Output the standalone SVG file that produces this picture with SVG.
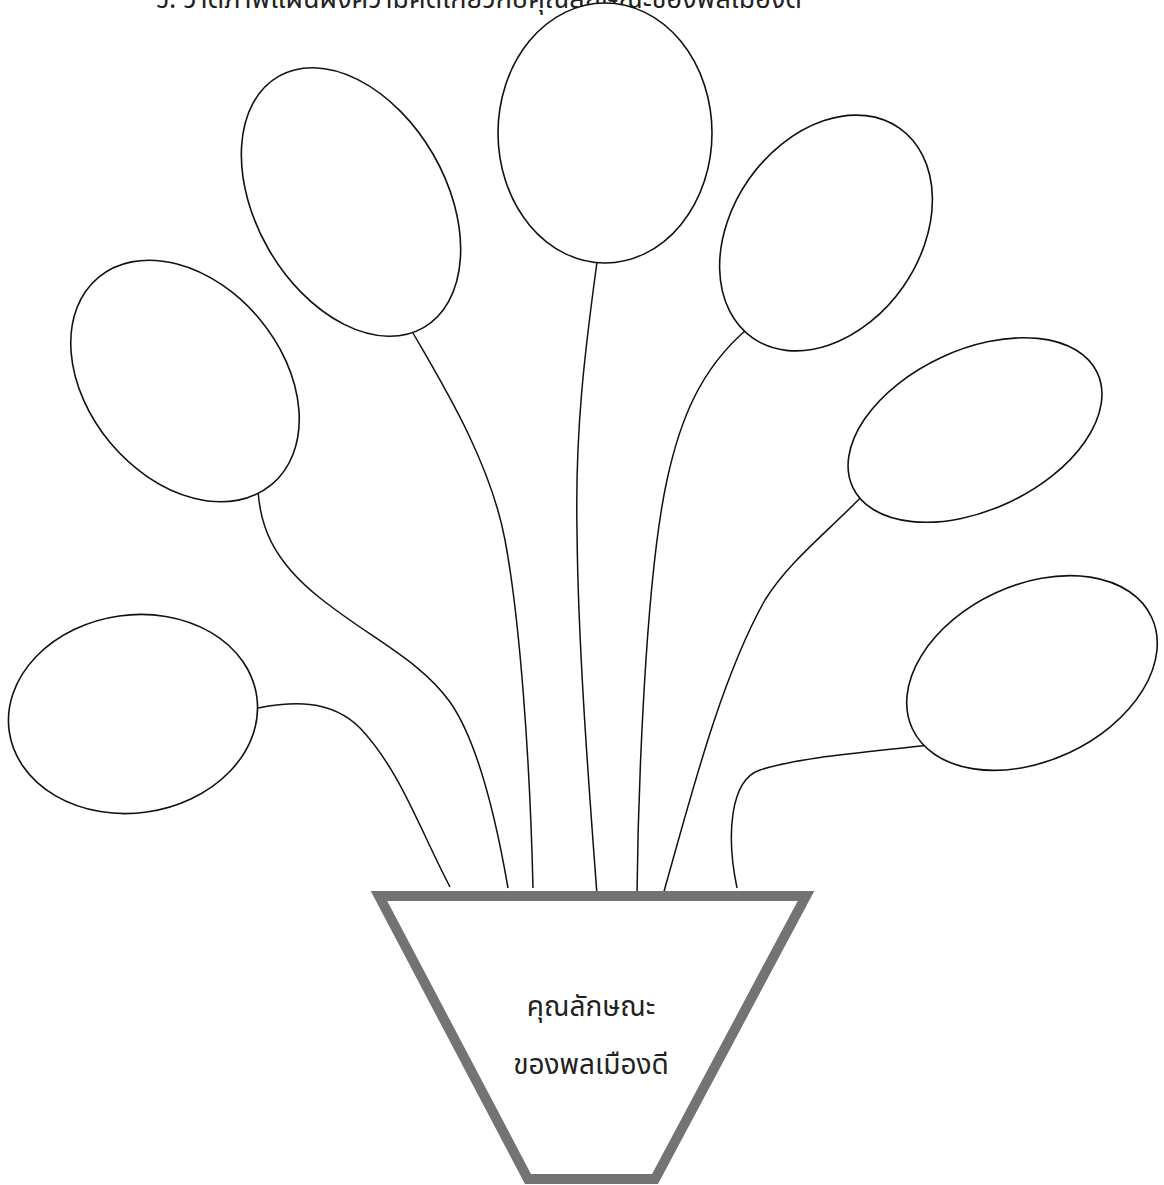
<svg xmlns="http://www.w3.org/2000/svg" width="1164" height="1185" viewBox="0 0 1164 1185">
<style>
.bubble{fill:#fff;stroke:#111;stroke-width:1.6}
.link{fill:none;stroke:#111;stroke-width:1.5}
.vase{fill:#fff;stroke:#737373;stroke-width:10;stroke-linejoin:miter}
.lbl{font-family:"Noto Sans Thai","Noto Sans","Liberation Sans",sans-serif;font-size:28px;fill:#222;text-anchor:middle}
.title{font-family:"Noto Sans Thai","Noto Sans","Liberation Sans",sans-serif;font-size:27px;fill:#222}
</style>
<rect width="1164" height="1185" fill="#fff"/>
<text class="title" x="155" y="8">๖. วาดภาพแผนผังความคิดเกี่ยวกับคุณลักษณะของพลเมืองดี</text>
<g id="connectors">
<path class="link" d="M258,708 C290,702 330,698 360,728 C400,770 420,830 450,887"/>
<path class="link" d="M258,490 C260,525 272,560 320,598 C370,638 420,660 450,702 C480,745 498,830 508,888"/>
<path class="link" d="M413,333 C440,380 490,460 505,540 C520,620 530,760 533,888"/>
<path class="link" d="M597,262 C585,350 575,430 577,530 C578,650 590,800 597,895"/>
<path class="link" d="M746,330 C700,370 680,420 667,480 C645,580 638,800 637,895"/>
<path class="link" d="M865,493 C830,530 790,560 765,600 C720,680 690,800 663,895"/>
<path class="link" d="M930,745 C870,752 800,757 760,770 C730,780 726,835 737,888"/>
</g>
<g id="bubble1"><ellipse class="bubble" cx="133" cy="714" rx="125" ry="99" transform="rotate(-8 133 714)"/></g>
<g id="bubble2"><ellipse class="bubble" cx="185" cy="381" rx="135" ry="97" transform="rotate(50 185 381)"/></g>
<g id="bubble3"><ellipse class="bubble" cx="351" cy="202" rx="145" ry="95" transform="rotate(60 351 202)"/></g>
<g id="bubble4"><ellipse class="bubble" cx="605" cy="133" rx="107" ry="130"/></g>
<g id="bubble5"><ellipse class="bubble" cx="826" cy="233" rx="128" ry="94" transform="rotate(-55 826 233)"/></g>
<g id="bubble6"><ellipse class="bubble" cx="975" cy="430" rx="135" ry="80" transform="rotate(-25 975 430)"/></g>
<g id="bubble7"><ellipse class="bubble" cx="1032" cy="673" rx="132" ry="88" transform="rotate(-25 1032 673)"/></g>
<g id="vase">
<polygon class="vase" points="379,896 806,896 655,1179 528,1179"/>
<text class="lbl" x="591" y="1016">คุณลักษณะ</text>
<text class="lbl" x="591" y="1074">ของพลเมืองดี</text>
</g>
</svg>
